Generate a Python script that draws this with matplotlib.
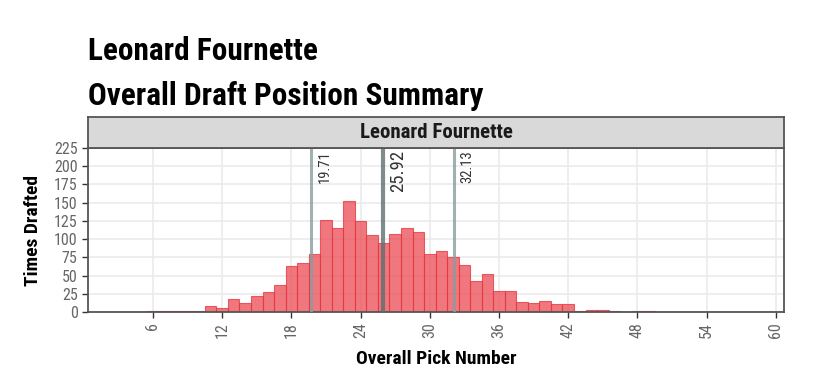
import matplotlib
matplotlib.use("Agg")
import matplotlib.pyplot as plt
import matplotlib.font_manager as fm

picks = list(range(6, 50))
times_drafted = [1, 1, 1, 1, 1, 8, 6, 18, 12, 22, 28, 37, 63, 67, 80, 126, 115, 152,
                 125, 106, 95, 107, 115, 110, 80, 84, 75, 65, 43, 52, 29, 29, 14, 13,
                 15, 11, 11, 1, 3, 3, 1, 0, 2, 2]
summary_values = [19.71, 25.92, 32.13]
x_ticks = [6, 12, 18, 24, 30, 36, 42, 48, 54, 60]
y_ticks = [0, 25, 50, 75, 100, 125, 150, 175, 200, 225]
player = "Leonard Fournette"

names = {f.name for f in fm.fontManager.ttflist}
font = "Roboto Condensed" if "Roboto Condensed" in names else "Roboto"
plt.rcParams["font.family"] = [font, "DejaVu Sans"]

W, H = 821, 392
fig = plt.figure(figsize=(W / 100, H / 100), dpi=100)
left, right, top, bottom = 88, 784, 148, 312
ax = fig.add_axes([left / W, 1 - bottom / H, (right - left) / W, (bottom - top) / H])

ax.grid(True, color="#ebebeb", linewidth=1.2)
ax.set_axisbelow(True)
ax.bar(picks, times_drafted, width=1, color="#ec4c55", alpha=0.76,
       edgecolor="#e6343d", linewidth=0.8, zorder=2)

for i, v in enumerate(summary_values):
    mid = i == 1
    ax.axvline(v, color="#5f6e70" if mid else "#8a9c9e", alpha=0.8,
               linewidth=3.0 if mid else 2.2, zorder=3)
    ax.text(v + 0.55, 222, f"{v:.2f}", rotation=90, ha="left", va="top",
            fontsize=13.5 if mid else 10.5, color="#333333", zorder=4)

ax.set_xlim(0.37, 60.7)
ax.set_ylim(0, 225)
ax.set_xticks(x_ticks)
ax.set_yticks(y_ticks)
ax.tick_params(axis="x", labelrotation=90)
ax.tick_params(colors="#333333", labelcolor="#666666", labelsize=11.5, length=4, width=1)
for s in ax.spines.values():
    s.set_color("#555555")
    s.set_linewidth(1.3)

ax.set_xlabel("Overall Pick Number", fontsize=14, fontweight="bold")
ax.set_ylabel("Times Drafted", fontsize=14, fontweight="bold")
ax.xaxis.set_label_coords(0.5, -0.232)
ax.yaxis.set_label_coords(-0.066, 0.5)

# facet strip
strip = fig.add_axes([left / W, 1 - top / H, (right - left) / W, 31 / H])
strip.set_facecolor("#d9d9d9")
strip.set_xticks([])
strip.set_yticks([])
for s in strip.spines.values():
    s.set_color("#555555")
    s.set_linewidth(1.3)
strip.text(0.5, 0.5, player, ha="center", va="center", fontsize=15,
           fontweight="bold", color="#1a1a1a", transform=strip.transAxes)

fig.text(left / W, 1 - 51 / H, player, ha="left", va="center",
         fontsize=22.5, fontweight="bold")
fig.text(left / W, 1 - 96 / H, "Overall Draft Position Summary", ha="left",
         va="center", fontsize=22.5, fontweight="bold")

fig.savefig("out.png", dpi=100)
